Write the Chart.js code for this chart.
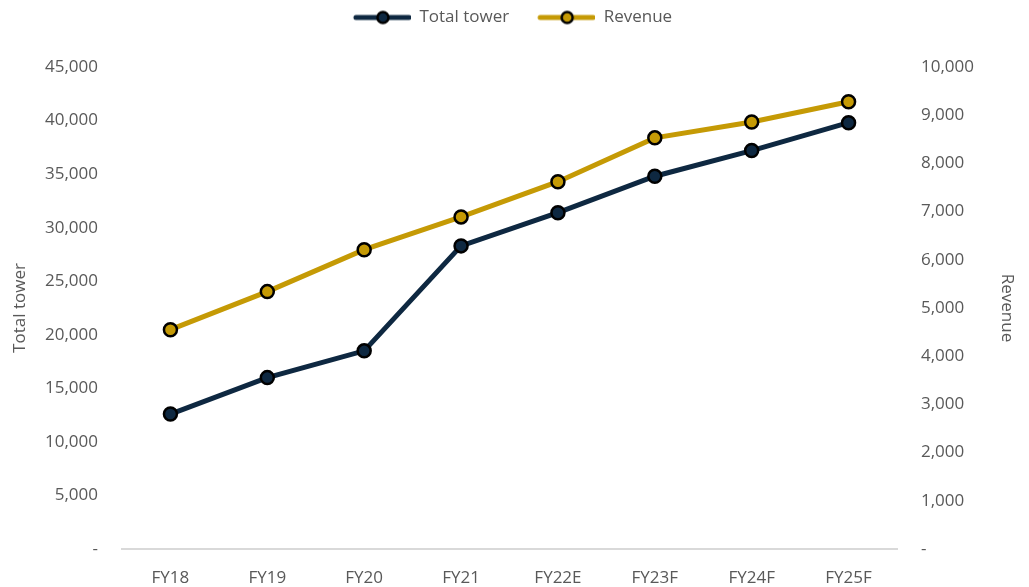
<!DOCTYPE html>
<html>
<head>
<meta charset="utf-8">
<script src="https://cdn.jsdelivr.net/npm/chart.js@4"></script>
<style>
  html, body { margin: 0; padding: 0; background: #ffffff; }
  #wrap { width: 1029px; height: 587px; }
</style>
</head>
<body>
<div id="wrap"><canvas id="towerChart" width="1029" height="587"></canvas></div>
<script>
// chart values
const years = ['FY18', 'FY19', 'FY20', 'FY21', 'FY22E', 'FY23F', 'FY24F', 'FY25F'];
const totalTower = [12600, 16000, 18500, 28300, 31400, 34800, 37200, 39800];
const revenue = [4550, 5340, 6210, 6890, 7620, 8530, 8860, 9280];

const navy = '#0e2841';
const gold = '#c59a05';
const textGrey = '#595959';
const baseFont = { family: 'Open Sans', size: 17 };

// legend marker: short line with a dot on it (blank lead-in gives the gap between items)
function legendMarker(color) {
  const c = document.createElement('canvas');
  c.width = 78;
  c.height = 16;
  const ctx = c.getContext('2d');
  ctx.strokeStyle = color;
  ctx.lineWidth = 5;
  ctx.lineCap = 'round';
  ctx.beginPath();
  ctx.moveTo(23, 8);
  ctx.lineTo(76, 8);
  ctx.stroke();
  ctx.beginPath();
  ctx.arc(50, 8, 5.5, 0, Math.PI * 2);
  ctx.fillStyle = color;
  ctx.fill();
  ctx.lineWidth = 2.5;
  ctx.strokeStyle = '#000000';
  ctx.stroke();
  return c;
}

const fmt = v => v === 0 ? '-' : v.toLocaleString('en-US');

// give the legend some extra room below it and nudge it left
const legendSpace = {
  id: 'legendSpace',
  beforeLayout(chart) {
    const lg = chart.legend;
    if (lg && !lg._patched) {
      const fit = lg.fit;
      lg.fit = function() {
        fit.call(this);
        this.height += 32;
      };
      const draw = lg.draw;
      lg.draw = function() {
        const c = this.ctx;
        c.save();
        c.translate(-11, 1);
        draw.call(this);
        c.restore();
      };
      lg._patched = true;
    }
  }
};

document.addEventListener('DOMContentLoaded', function() {
const ctx = document.getElementById('towerChart').getContext('2d');
new Chart(ctx, {
  type: 'line',
  data: {
    labels: years,
    datasets: [{
      label: 'Total tower',
      data: totalTower,
      yAxisID: 'y',
      borderColor: navy,
      backgroundColor: navy,
      borderWidth: 5,
      pointRadius: 6.5,
      pointBorderWidth: 2.5,
      pointBorderColor: '#000000',
      pointBackgroundColor: navy,
      tension: 0
    }, {
      label: 'Revenue',
      data: revenue,
      yAxisID: 'y1',
      borderColor: gold,
      backgroundColor: gold,
      borderWidth: 5,
      pointRadius: 6.5,
      pointBorderWidth: 2.5,
      pointBorderColor: '#000000',
      pointBackgroundColor: gold,
      tension: 0
    }]
  },
  plugins: [legendSpace],
  options: {
    responsive: false,
    animation: false,
    layout: {
      padding: { left: 8, right: 10, top: 0, bottom: 0 }
    },
    plugins: {
      tooltip: { enabled: false },
      legend: {
        position: 'top',
        labels: {
          usePointStyle: true,
          pointStyleWidth: 78,
          boxHeight: 16,
          padding: 8,
          color: textGrey,
          font: baseFont,
          generateLabels: function(chart) {
            const items = Chart.defaults.plugins.legend.labels.generateLabels(chart);
            items.forEach((it, i) => {
              it.pointStyle = legendMarker(i === 0 ? navy : gold);
            });
            return items;
          }
        }
      }
    },
    scales: {
      x: {
        offset: true,
        grid: { display: false },
        border: { display: true, color: '#d9d9d9', width: 2 },
        ticks: {
          color: textGrey,
          font: baseFont,
          padding: 11
        },
        afterFit(scale) { scale.height = 38; }
      },
      y: {
        position: 'left',
        min: 0,
        max: 45000,
        grid: { display: false },
        border: { display: false },
        ticks: {
          stepSize: 5000,
          color: textGrey,
          font: baseFont,
          padding: 16,
          callback: fmt
        },
        title: {
          display: true,
          text: 'Total tower',
          color: textGrey,
          font: baseFont,
          padding: { top: 2, bottom: 14 }
        },
        afterFit(scale) { scale.width = 114; }
      },
      y1: {
        position: 'right',
        min: 0,
        max: 10000,
        grid: { display: false },
        border: { display: false },
        ticks: {
          stepSize: 1000,
          color: textGrey,
          font: baseFont,
          padding: 16,
          callback: fmt
        },
        title: {
          display: true,
          text: 'Revenue',
          color: textGrey,
          font: baseFont,
          padding: { top: 2, bottom: 14 }
        },
        afterFit(scale) { scale.width = 122; }
      }
    }
  }
});
});
</script>
</body>
</html>
